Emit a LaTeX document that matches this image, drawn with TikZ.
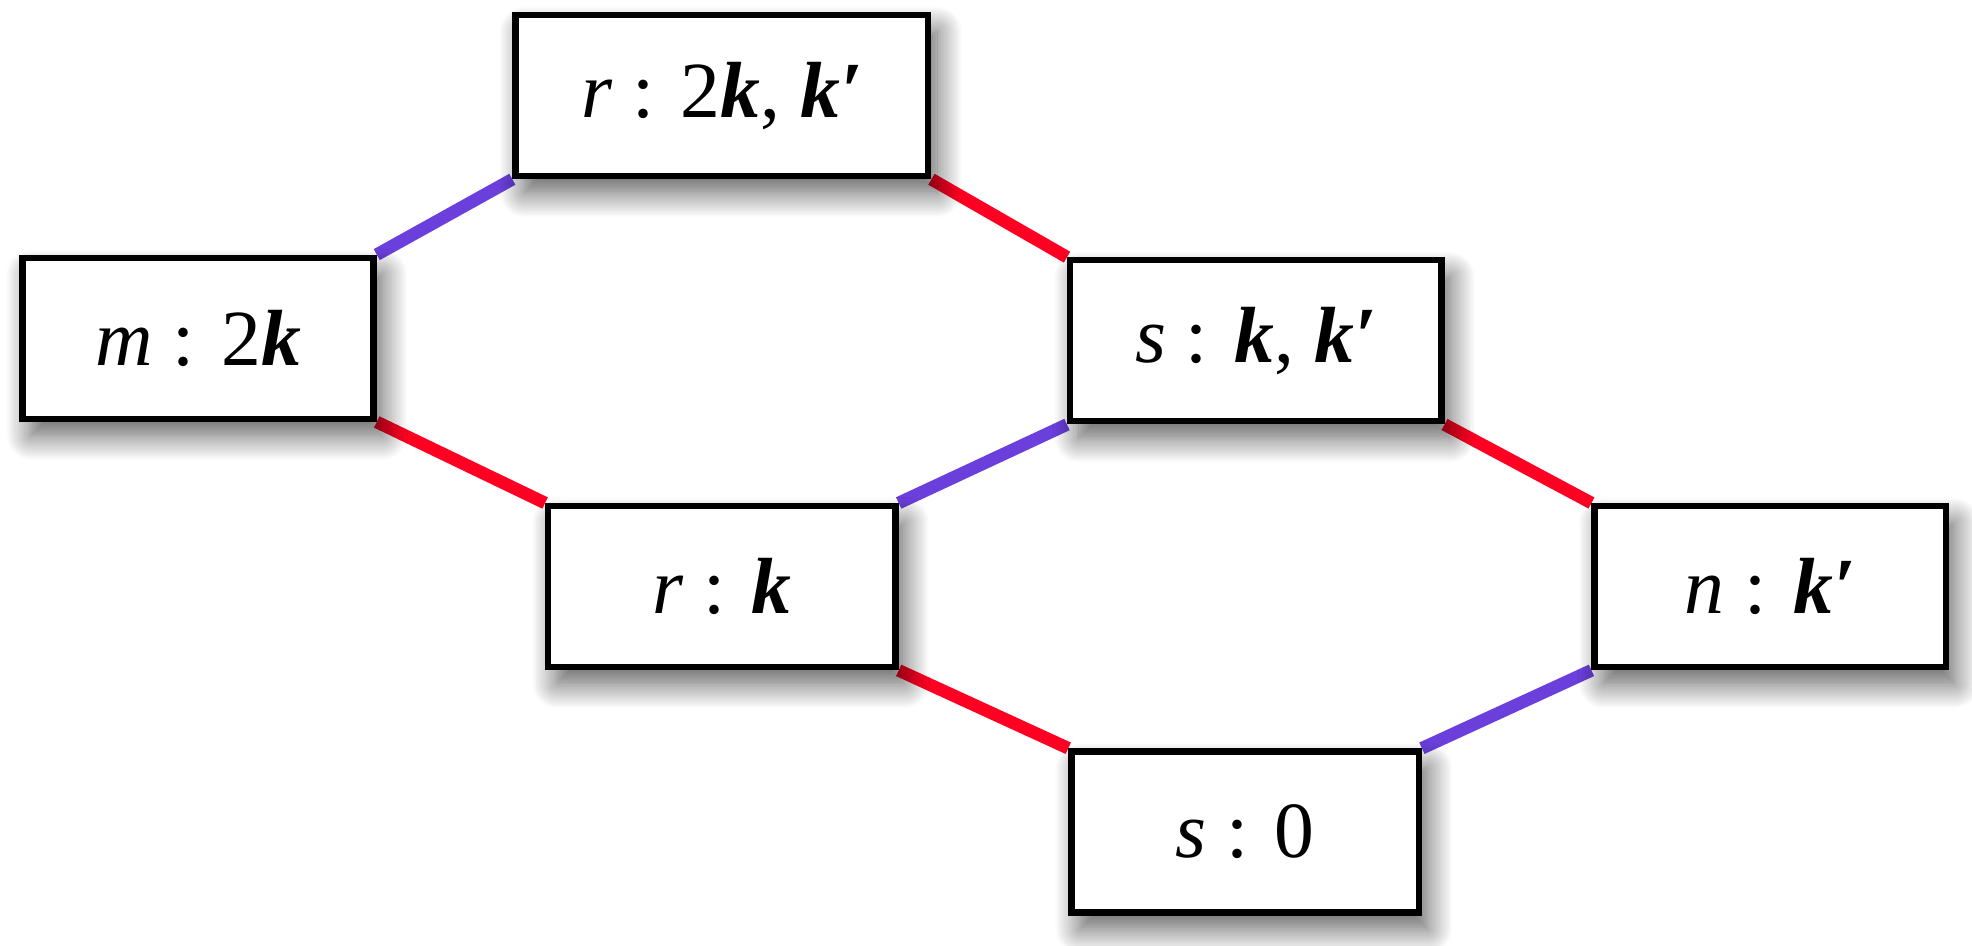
\documentclass[tikz,border=0pt]{standalone}
\usepackage{fontspec}
\setmainfont{Liberation Serif}
\usetikzlibrary{shadows.blur,backgrounds}
\definecolor{edgered}{HTML}{FF0022}
\definecolor{edgepurple}{HTML}{6A3FDB}
\newcommand{\bk}{\textbf{\textit{k}}}
\newcommand{\bkp}{\textbf{\textit{k′}}}
\begin{document}
\begin{tikzpicture}[x=0.01cm,y=-0.01cm,
  statebox/.style={draw=black, line width=0.05cm, fill=white, rectangle,
    minimum height=1.28cm, inner sep=0pt,
    font=\fontsize{18}{20}\selectfont,
    blur shadow={shadow xshift=0.07cm, shadow yshift=-0.13cm, shadow blur radius=0.2cm, shadow blur steps=20, shadow opacity=65}},
  redline/.style={draw=edgered, line width=0.1cm},
  purpleline/.style={draw=edgepurple, line width=0.1cm}]
\useasboundingbox (0,0) rectangle (1568,752);
\node[statebox, minimum width=3.28cm] (A) at (574,76) {\textit{r} : 2\bk, \bkp};
\node[statebox, minimum width=2.79cm] (B) at (157.5,269) {\textit{m} : 2\bk};
\node[statebox, minimum width=2.95cm] (C) at (998.5,271) {\textit{s} : \bk, \bkp};
\node[statebox, minimum width=2.76cm] (D) at (574,466.5) {\textit{r} : \bk};
\node[statebox, minimum width=2.79cm] (E) at (1407.5,466.5) {\textit{n} : \bkp};
\node[statebox, minimum width=2.76cm] (F) at (990,661.5) {\textit{s} : 0};
\begin{scope}[on background layer]
\draw[purpleline] (A.south west) -- (B.north east);
\draw[redline] (A.south east) -- (C.north west);
\draw[redline] (B.south east) -- (D.north west);
\draw[purpleline] (C.south west) -- (D.north east);
\draw[redline] (C.south east) -- (E.north west);
\draw[redline] (D.south east) -- (F.north west);
\draw[purpleline] (E.south west) -- (F.north east);
\end{scope}
\end{tikzpicture}
\end{document}
